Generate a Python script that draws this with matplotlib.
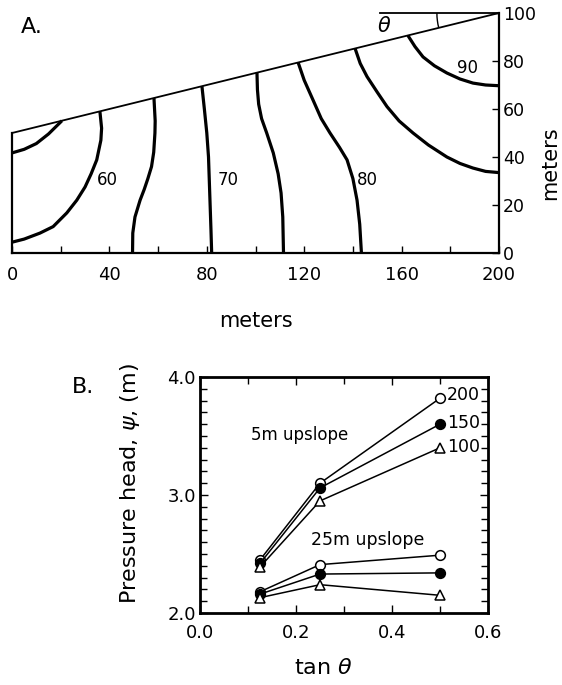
import matplotlib
matplotlib.use('Agg')
import matplotlib.pyplot as plt
from matplotlib.patches import Arc
from matplotlib.ticker import MultipleLocator, FixedLocator, FormatStrFormatter

plt.rcParams['font.family'] = ['DejaVu Sans']

# ---------------- Panel A data (meters) ----------------
surface_x = [0, 200]
surface_y = [50, 100]

c55_x = [0, 5, 10, 15, 20.5]
c55_y = [41.7, 43.2, 45.6, 49.6, 55.1]

c60_x = [36.1, 36.8, 36.5, 34.8, 32.5, 30.0, 26.6, 22.5, 16.9, 11.5, 5.0, 0.0]
c60_y = [59.0, 52.0, 47.0, 38.8, 33.0, 27.5, 22.0, 16.7, 11.0, 8.3, 5.8, 4.5]

c65_x = [58.3, 58.8, 58.7, 58.2, 57.3, 55.8, 54.3, 52.6, 50.5, 49.6, 49.5]
c65_y = [64.6, 55.0, 50.0, 42.0, 36.0, 31.0, 26.5, 22.0, 15.0, 8.3, 0.0]

c70_x = [78.0, 79.0, 80.0, 80.7, 81.3, 81.7, 82.0]
c70_y = [69.5, 60.0, 50.0, 40.0, 22.0, 10.0, 0.0]

c75_x = [100.6, 100.8, 101.3, 102.5, 104.6, 107.3, 109.3, 110.5, 111.2, 111.5]
c75_y = [75.1, 68.0, 62.0, 56.0, 50.0, 41.7, 33.0, 25.0, 15.0, 0.0]

c80_x = [117.5, 120.0, 123.6, 127.0, 130.6, 134.5, 137.6, 140.0, 141.7, 142.8, 143.5]
c80_y = [79.4, 72.0, 63.8, 56.0, 50.0, 44.0, 38.8, 31.0, 22.0, 12.0, 0.0]

c85_x = [140.9, 143.0, 145.8, 150.0, 154.0, 159.0, 164.7, 171.0, 178.6, 184.0, 189.3, 194.5, 200.0]
c85_y = [85.2, 79.0, 73.5, 67.0, 61.0, 55.0, 50.0, 45.0, 40.0, 37.3, 35.4, 34.0, 33.5]

c90_x = [162.6, 165.5, 168.8, 173.5, 178.6, 184.0, 189.3, 194.5, 200.0]
c90_y = [90.6, 86.0, 81.7, 78.0, 75.0, 72.5, 70.8, 70.0, 69.7]

contour_labels = ['60', '70', '80', '90']
label_x = [39, 88.7, 146, 187]
label_y = [30.4, 30.4, 30.4, 77]

a_xticks = [0, 40, 80, 120, 160, 200]
a_yticks = [0, 20, 40, 60, 80, 100]

# ---------------- Panel B data ----------------
tan_theta = [0.125, 0.25, 0.5]
up5_200 = [2.45, 3.10, 3.82]
up5_150 = [2.42, 3.06, 3.60]
up5_100 = [2.39, 2.95, 3.40]
up25_200 = [2.18, 2.41, 2.49]
up25_150 = [2.16, 2.33, 2.34]
up25_100 = [2.13, 2.24, 2.15]
series_names = ['200', '150', '100']

fig = plt.figure(figsize=(5.62, 6.85), dpi=100)

# ---------------- Panel A ----------------
axA = fig.add_axes([12/562, 1 - 253/685, 487/562, 240/685])
axA.set_xlim(0, 200)
axA.set_ylim(0, 100)
for s in ['top', 'left']:
    axA.spines[s].set_visible(False)
for s in ['bottom', 'right']:
    axA.spines[s].set_linewidth(1.6)
axA.plot([0, 0], [0, surface_y[0]], color='black', lw=1.6, clip_on=False)
axA.plot(surface_x, surface_y, color='black', lw=1.3, clip_on=False)
axA.plot([151, 200], [100, 100], color='black', lw=1.3, clip_on=False)
axA.add_patch(Arc((200, 100), 51, 51, theta1=180, theta2=194, color='black', lw=1.0, clip_on=False))
axA.text(153, 94.5, r'$\theta$', fontsize=15, ha='center', va='center')

for cx, cy in [(c55_x, c55_y), (c60_x, c60_y), (c65_x, c65_y), (c70_x, c70_y),
               (c75_x, c75_y), (c80_x, c80_y), (c85_x, c85_y), (c90_x, c90_y)]:
    axA.plot(cx, cy, color='black', lw=2.3, clip_on=False, solid_capstyle='butt')
for t, x, y in zip(contour_labels, label_x, label_y):
    axA.text(x, y, t, fontsize=12, ha='center', va='center')

axA.xaxis.set_major_locator(FixedLocator(a_xticks))
axA.xaxis.set_minor_locator(MultipleLocator(20))
axA.tick_params(axis='x', which='both', direction='in', length=5, width=1.0, labelsize=13, pad=9)
axA.yaxis.tick_right()
axA.yaxis.set_major_locator(FixedLocator(a_yticks))
axA.tick_params(axis='y', which='both', direction='in', length=5, width=1.0, labelsize=12.5, pad=3,
                left=False, right=True, labelleft=False, labelright=True)
axA.set_xlabel('meters', fontsize=15, labelpad=20)
axA.yaxis.set_label_position('right')
axA.set_ylabel('meters', fontsize=15)
axA.yaxis.set_label_coords((540 - 12) / 487, (253 - 163) / 240)
fig.text(32/562, 1 - 27/685, 'A.', fontsize=16, ha='center', va='center')

# ---------------- Panel B ----------------
axB = fig.add_axes([200/562, 1 - 613/685, 288/562, 236/685])
axB.set_xlim(0, 0.6)
axB.set_ylim(2.0, 4.0)
for s in axB.spines.values():
    s.set_linewidth(2.0)
mk = dict(color='black', lw=1.1, markersize=7, markeredgewidth=1.1)
for ys in (up5_200, up25_200):
    axB.plot(tan_theta, ys, marker='o', markerfacecolor='white', **mk)
for ys in (up5_150, up25_150):
    axB.plot(tan_theta, ys, marker='o', markerfacecolor='black', **mk)
for ys in (up5_100, up25_100):
    axB.plot(tan_theta, ys, marker='^', markerfacecolor='white', **mk)

for name, yv in zip(series_names, [3.85, 3.61, 3.41]):
    axB.text(0.515, yv, name, fontsize=12.5, ha='left', va='center')
axB.text(0.208, 3.51, '5m upslope', fontsize=12, ha='center', va='center')
axB.text(0.35, 2.62, '25m upslope', fontsize=12.5, ha='center', va='center')

axB.xaxis.set_major_locator(MultipleLocator(0.2))
axB.xaxis.set_minor_locator(MultipleLocator(0.1))
axB.yaxis.set_major_locator(MultipleLocator(1.0))
axB.yaxis.set_minor_locator(MultipleLocator(0.1))
axB.xaxis.set_major_formatter(FormatStrFormatter('%.1f'))
axB.yaxis.set_major_formatter(FormatStrFormatter('%.1f'))
axB.tick_params(which='both', direction='in', top=True, right=True, width=1.0, labelsize=13)
axB.tick_params(which='major', length=6)
axB.tick_params(which='minor', length=5)
axB.tick_params(axis='x', pad=8)
axB.tick_params(axis='y', pad=3)
axB.set_xlabel(r'tan $\theta$', fontsize=16)
axB.xaxis.set_label_coords((323 - 200) / 288, -(658 - 613) / 236)
axB.set_ylabel(r'Pressure head, $\psi$, (m)', fontsize=16)
axB.yaxis.set_label_coords((142 - 200) / 288, (613 - 483) / 236)
fig.text(83/562, 1 - 387/685, 'B.', fontsize=16, ha='center', va='center')

fig.savefig('out.png', dpi=100)
